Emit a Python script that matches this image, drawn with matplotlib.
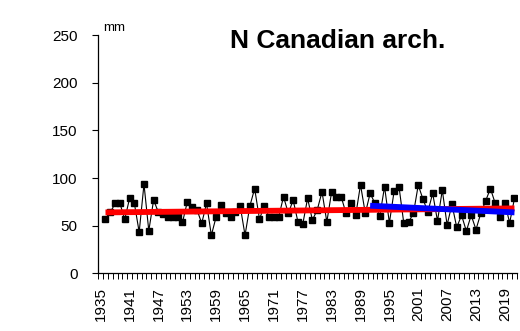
import numpy as np
import matplotlib
matplotlib.use('Agg')
import matplotlib.pyplot as plt
from matplotlib.ticker import MultipleLocator

plt.rcParams['font.family'] = ['Liberation Sans', 'DejaVu Sans']

# annual precipitation, mm
years = list(range(1936, 2022))
precip = [57, 64, 73.5, 73.5, 56.6, 78.7, 73.5, 43.3, 93.7, 44.7,
          77, 64, 62, 59.4, 59.4, 59.4, 53.5, 75, 70, 67,
          52.5, 73.5, 40, 59.4, 72, 63, 59.4, 64, 70.6, 40,
          70.6, 89, 57, 70.6, 59.4, 59.4, 59.4, 80.4, 63, 77,
          54, 51.7, 78.7, 56, 66.5, 85.6, 54, 85.6, 80, 80,
          63, 74, 61, 93, 63, 84, 73.5, 60, 91, 53,
          86.7, 91, 52.5, 54, 63, 92.6, 77.6, 64.7, 84, 55,
          87.4, 50.7, 72.5, 48.3, 61, 44.4, 61, 46, 63, 76,
          89, 73.5, 59.4, 74, 53, 78.7]

# trend lines (start/end)
trend_all_x = [1936, 2021]
trend_all_y = [64, 68.2]
trend_recent_x = [1991, 2021]
trend_recent_y = [71, 64]

tick_years = list(range(1935, 2020, 6))

fig = plt.figure(figsize=(5.2, 3.31), dpi=100)
ax = fig.add_axes([0.189, 0.174, 0.805, 0.72])

ax.plot(years, precip, color='black', lw=0.8, marker='s', ms=4.2,
        mfc='black', mec='black', zorder=2)
ax.plot(trend_all_x, trend_all_y, color='#ff0000', lw=4.2,
        solid_capstyle='butt', zorder=3)
ax.plot(trend_recent_x, trend_recent_y, color='#0000ff', lw=4.2,
        solid_capstyle='butt', zorder=4)

ax.set_xlim(1934.5, 2021.5)
ax.set_ylim(0, 250)

ax.set_yticks(range(0, 251, 50))
ax.tick_params(axis='y', direction='out', length=4, width=0.8,
               pad=11, labelsize=11)

ax.set_xticks(tick_years)
ax.set_xticklabels([str(y) for y in tick_years], rotation=90)
ax.xaxis.set_minor_locator(MultipleLocator(1, offset=0.5))
ax.tick_params(axis='x', which='major', length=0, pad=10, labelsize=11)
ax.tick_params(axis='x', which='minor', direction='out', length=4,
               width=0.7)

for s in ['top', 'right']:
    ax.spines[s].set_visible(False)
for s in ['left', 'bottom']:
    ax.spines[s].set_linewidth(0.9)

fig.text(0.198, 0.915, 'mm', fontsize=9.5, ha='left', va='center')
fig.text(0.65, 0.877, 'N Canadian arch.', fontsize=19, fontweight='bold',
         ha='center', va='center')

fig.savefig('out.png', dpi=100)
